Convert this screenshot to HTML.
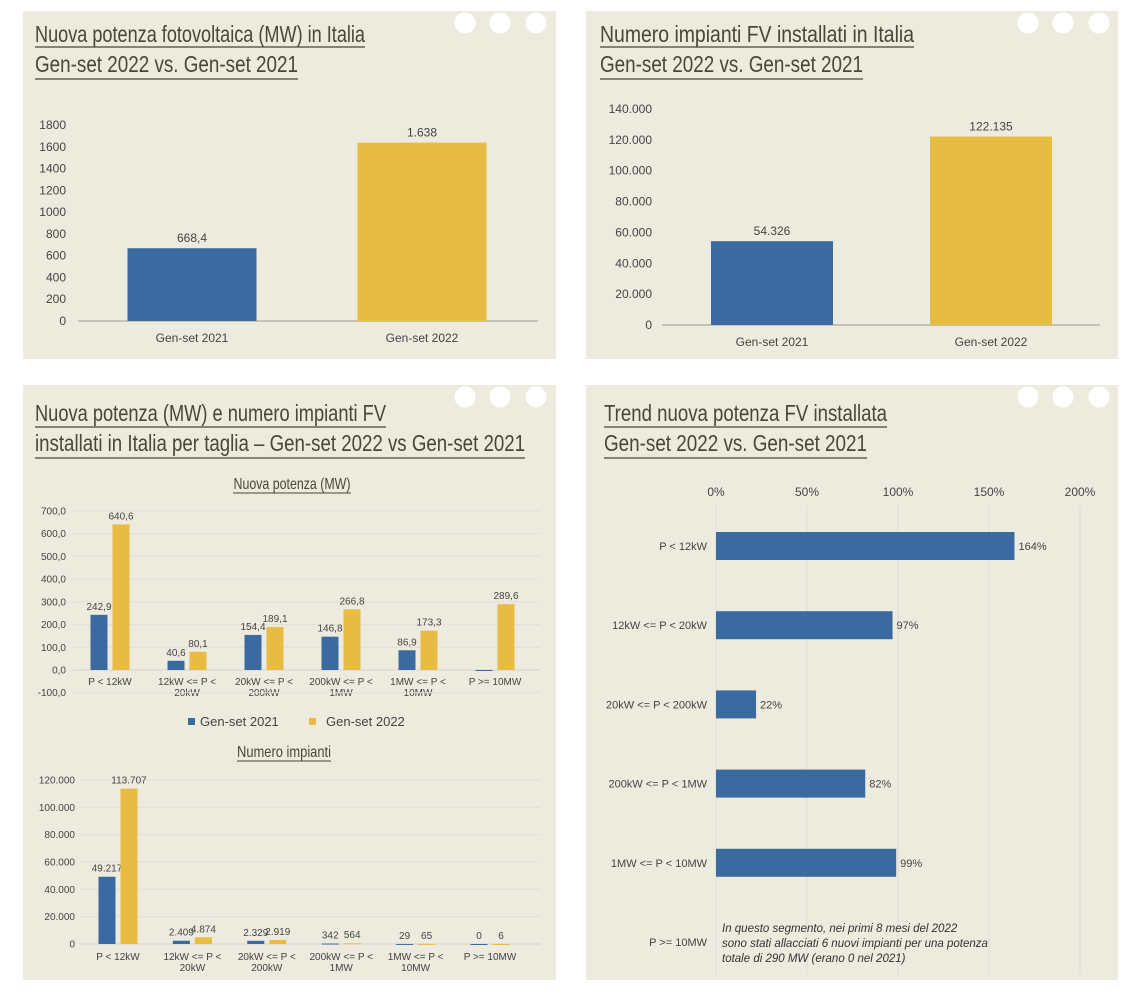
<!DOCTYPE html>
<html><head><meta charset="utf-8"><style>
html,body{margin:0;padding:0;background:#fff;}
svg{display:block;font-family:"Liberation Sans",sans-serif;}
.t{font-family:"Liberation Sans Narrow","Liberation Sans",sans-serif;fill:#4a4638;font-size:23px;}
.ax{fill:#444;font-size:12px;}
.sm{fill:#444;font-size:10px;}
.v{fill:#333;font-size:11px;}
</style></head><body>
<svg id="svg" width="1137" height="996" viewBox="0 0 1137 996" xmlns="http://www.w3.org/2000/svg">
<g fill="#edeade">
<rect x="23" y="11" width="533" height="348"/>
<rect x="586" y="11" width="532" height="348"/>
<rect x="23" y="385" width="533" height="595"/>
<rect x="586" y="385" width="532" height="595"/>
</g>
<g id="holes" fill="#fff"></g>
<g stroke="#4a4638" stroke-width="1.3">
<text class="t" x="35" y="42" textLength="330" lengthAdjust="spacingAndGlyphs" stroke="none">Nuova potenza fotovoltaica (MW) in Italia</text>
<line x1="35" y1="47" x2="365" y2="47"/>
<text class="t" x="35" y="72" textLength="263" lengthAdjust="spacingAndGlyphs" stroke="none">Gen-set 2022 vs. Gen-set 2021</text>
<line x1="35" y1="79" x2="298" y2="79"/>
<text class="t" x="600" y="42" textLength="314" lengthAdjust="spacingAndGlyphs" stroke="none">Numero impianti FV installati in Italia</text>
<line x1="600" y1="47" x2="914" y2="47"/>
<text class="t" x="600" y="72" textLength="263" lengthAdjust="spacingAndGlyphs" stroke="none">Gen-set 2022 vs. Gen-set 2021</text>
<line x1="600" y1="79" x2="863" y2="79"/>
<text class="t" x="35" y="421" textLength="351" lengthAdjust="spacingAndGlyphs" stroke="none">Nuova potenza (MW) e numero impianti FV</text>
<line x1="35" y1="427" x2="386" y2="427"/>
<text class="t" x="35" y="451" textLength="490" lengthAdjust="spacingAndGlyphs" stroke="none">installati in Italia per taglia – Gen-set 2022 vs Gen-set 2021</text>
<line x1="35" y1="458" x2="525" y2="458"/>
<text class="t" x="604" y="421" textLength="283" lengthAdjust="spacingAndGlyphs" stroke="none">Trend nuova potenza FV installata</text>
<line x1="604" y1="427" x2="887" y2="427"/>
<text class="t" x="604" y="451" textLength="263" lengthAdjust="spacingAndGlyphs" stroke="none">Gen-set 2022 vs. Gen-set 2021</text>
<line x1="604" y1="458" x2="867" y2="458"/>
<text class="t" x="292" y="489" text-anchor="middle" style="font-size:16px" textLength="117" lengthAdjust="spacingAndGlyphs" stroke="none">Nuova potenza (MW)</text>
<line x1="233" y1="493" x2="351" y2="493" stroke-width="1"/>
<text class="t" x="284" y="757" text-anchor="middle" style="font-size:16px" textLength="94" lengthAdjust="spacingAndGlyphs" stroke="none">Numero impianti</text>
<line x1="237" y1="761" x2="331" y2="761" stroke-width="1"/>
</g>
<g>
<rect x="188" y="718" width="7" height="7" fill="#3a6aa0"/>
<text x="200" y="726" class="ax" style="font-size:13px">Gen-set 2021</text>
<rect x="309" y="718" width="7" height="7" fill="#e8bb42"/>
<text x="326" y="726" class="ax" style="font-size:13px">Gen-set 2022</text>
</g>
<g id="c1"></g>
<g id="c2"></g>
<g id="c3"></g>
<g id="c4"></g>
<g id="c5"></g>
<g font-style="italic" fill="#333" font-size="11.5">
<text x="722" y="932">In questo segmento, nei primi 8 mesi del 2022</text>
<text x="722" y="947">sono stati allacciati 6 nuovi impianti per una potenza</text>
<text x="722" y="962">totale di 290 MW (erano 0 nel 2021)</text>
</g>
</svg>
<script>
const NS="http://www.w3.org/2000/svg";
const periodCats=["Gen-set 2021","Gen-set 2022"];
const potenzaVals=[668.4,1638];
const potenzaLabels=["668,4","1.638"];
const potenzaTicks=[0,200,400,600,800,1000,1200,1400,1600,1800];
const impiantiVals=[54326,122135];
const impiantiLabels=["54.326","122.135"];
const impiantiTicks=[0,20000,40000,60000,80000,100000,120000,140000];
const tagliaCats=[["P < 12kW"],["12kW <= P <","20kW"],["20kW <= P <","200kW"],["200kW <= P <","1MW"],["1MW <= P <","10MW"],["P >= 10MW"]];
const mw2021=[242.9,40.6,154.4,146.8,86.9,-2];
const mw2022=[640.6,80.1,189.1,266.8,173.3,289.6];
const mw2021Labels=["242,9","40,6","154,4","146,8","86,9",""];
const mw2022Labels=["640,6","80,1","189,1","266,8","173,3","289,6"];
const mwTicks=[-100,0,100,200,300,400,500,600,700];
const n2021=[49217,2409,2329,342,29,0];
const n2022=[113707,4874,2919,564,65,6];
const n2021Labels=["49.217","2.409","2.329","342","29","0"];
const n2022Labels=["113.707","4.874","2.919","564","65","6"];
const nTicks=[0,20000,40000,60000,80000,100000,120000];
const trendCats=["P < 12kW","12kW <= P < 20kW","20kW <= P < 200kW","200kW <= P < 1MW","1MW <= P < 10MW","P >= 10MW"];
const trendVals=[164,97,22,82,99,null];
const trendTicks=[0,50,100,150,200];
const BLUE="#3a6aa0",YEL="#e8bb42";
function mk(p,tag,at,txt){const e=document.createElementNS(NS,tag);for(const k in at)e.setAttribute(k,at[k]);if(txt!=null)e.textContent=txt;p.appendChild(e);return e;}
function fmtIt(v){return String(v).replace(/\B(?=(\d{3})+(?!\d))/g,'.');}
const holes=document.getElementById('holes');
[[465,500,536,11],[1028,1063,1099,11],[465,500,536,385],[1028,1063,1099,385]].forEach(h=>{for(let i=0;i<3;i++){const c=mk(holes,'circle',{cx:h[i],cy:h[3]+12,r:10.5});

}});
function simple(g,vals,labels,ticks,base,top,x0,x1,centers,bw,tickX,fmtf){
 const max=ticks[ticks.length-1];const y=v=>base-(v/max)*(base-top);
 ticks.forEach(t=>{const tx=mk(g,'text',{x:tickX,y:y(t)+4,'text-anchor':'end',class:'ax'},fmtf(t));
 
 });
 mk(g,'line',{x1:x0,x2:x1,y1:base,y2:base,stroke:'#b8b5ab','stroke-width':1.5});
 vals.forEach((v,i)=>{const r=mk(g,'rect',{x:centers[i]-bw/2,y:y(v),width:bw,height:base-y(v),fill:i?YEL:BLUE});
 
 
 const l=mk(g,'text',{x:centers[i],y:y(v)-6,'text-anchor':'middle',class:'ax',fill:'#333'},labels[i]);
 
 
 const c=mk(g,'text',{x:centers[i],y:base+21,'text-anchor':'middle',class:'ax'},periodCats[i]);
 
 });
}
simple(document.getElementById('c1'),potenzaVals,potenzaLabels,potenzaTicks,321,125,78,538,[192,422],129,66,t=>String(t));
simple(document.getElementById('c2'),impiantiVals,impiantiLabels,impiantiTicks,325,109,662,1100,[772,991],122,652,fmtIt);
function grouped(g,a,b,la,lb,ticks,yZero,yTop,x0,x1,c0,step,tickX,fmtf,labOff){
 const max=ticks[ticks.length-1];const y=v=>yZero-(v/max)*(yZero-yTop);
 ticks.forEach(t=>{mk(g,'line',{x1:x0,x2:x1,y1:y(t),y2:y(t),stroke:t===0?'#d6d3c8':'#e2dfd4','stroke-width':1});
 const tx=mk(g,'text',{x:tickX,y:y(t)+3.5,'text-anchor':'end',class:'sm'},fmtf(t));
 
 });
 const bw=17;
 tagliaCats.forEach((c,i)=>{const cx=c0+i*step;
  [[a,la,BLUE,-bw/2-2.5],[b,lb,YEL,bw/2+2.5]].forEach(([arr,lab,col,off],k)=>{const v=arr[i];const yt=Math.min(y(v),yZero);const h=Math.max(Math.abs(y(v)-yZero),1);
   const r=mk(g,'rect',{x:cx+off-bw/2,y:yt,width:bw,height:h,fill:col});
   
   
   const l=mk(g,'text',{x:cx+off,y:Math.min(y(v),yZero)-5,'text-anchor':'middle',class:'sm',fill:'#333'},lab[i]);
   
   });
  c.forEach((s,j)=>{const t=mk(g,'text',{x:cx,y:yZero+labOff+j*11,'text-anchor':'middle',class:'sm'},s);
  
  });
 });
}
grouped(document.getElementById('c3'),mw2021,mw2022,mw2021Labels,mw2022Labels,mwTicks.slice(1),670,511,73,540,110,77,66,t=>t.toFixed(1).replace('.',','),15);
(function(){const g=document.getElementById('c3');const yy=670+(100/700)*(670-511);
mk(g,'line',{x1:73,x2:540,y1:yy,y2:yy,stroke:'#e2dfd4'});
const t=mk(g,'text',{x:66,y:yy+3.5,'text-anchor':'end',class:'sm'},mwTicks[0].toFixed(1).replace('.',','));

})();
grouped(document.getElementById('c4'),n2021,n2022,n2021Labels,n2022Labels,nTicks,944,780,80,540,118,74.4,75,fmtIt,16);
(function(){const g=document.getElementById('c5');const x=v=>716+v/200*(1080-716);
 trendTicks.forEach(t=>{mk(g,'line',{x1:x(t),x2:x(t),y1:505,y2:975,stroke:'#e0ddd2'});
 const tx=mk(g,'text',{x:x(t),y:496,'text-anchor':'middle',class:'ax'},t+'%');
 
 });
 trendCats.forEach((c,i)=>{const cy=546+i*79.2;
  const l=mk(g,'text',{x:707,y:cy+4,'text-anchor':'end',class:'sm',style:'font-size:11px'},c);
  
  
  const v=trendVals[i];if(v==null)return;
  const r=mk(g,'rect',{x:x(0),y:cy-14,width:x(v)-x(0),height:28,fill:BLUE});
  
  
  const t=mk(g,'text',{x:x(v)+4,y:cy+4,class:'sm',style:'font-size:11px',fill:'#333'},v+'%');
  
  });
})();
</script>
</body></html>
